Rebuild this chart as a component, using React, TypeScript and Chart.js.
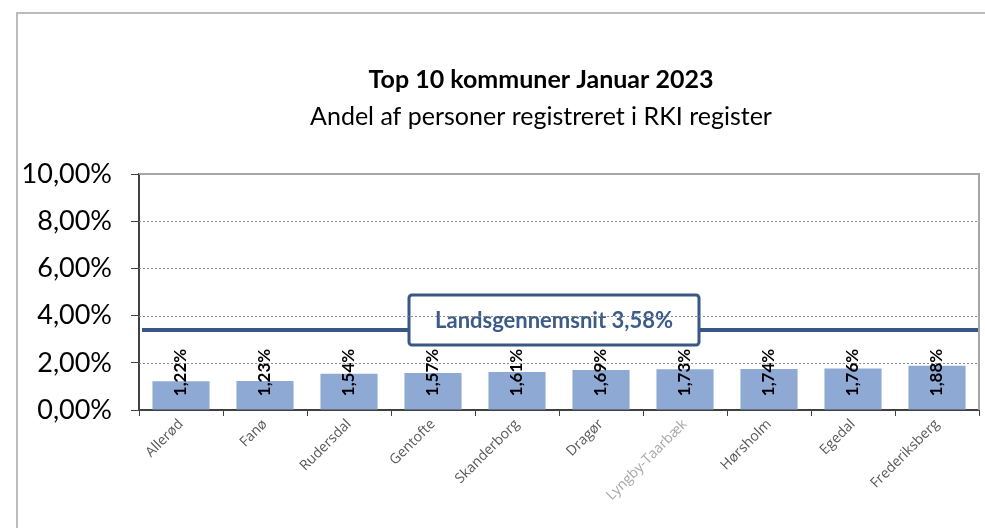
import React, { useEffect, useRef } from "react";
import { Chart, registerables } from "chart.js";

Chart.register(...registerables);

const categories = [
  "Allerød",
  "Fanø",
  "Rudersdal",
  "Gentofte",
  "Skanderborg",
  "Dragør",
  "Lyngby-Taarbæk",
  "Hørsholm",
  "Egedal",
  "Frederiksberg",
];
const shares = [1.22, 1.23, 1.54, 1.57, 1.61, 1.69, 1.73, 1.74, 1.76, 1.88];
const yTicks = [0, 2, 4, 6, 8, 10];
const nationalAverageLabel = "Landsgennemsnit 3,58%";
const nationalAverageLevel = 3.4;
const barLabelLevel = 1.59;
const titleText = "Top 10 kommuner Januar 2023";
const subtitleText = "Andel af personer registreret i RKI register";

const fmt = (v: number) => v.toFixed(2).replace(".", ",") + "%";

const decor = {
  id: "decor",
  beforeDraw(chart: any) {
    const { ctx, width, height } = chart;
    ctx.save();
    ctx.fillStyle = "#ffffff";
    ctx.fillRect(0, 0, width, height);
    ctx.strokeStyle = "#bcbcbc";
    ctx.lineWidth = 2;
    ctx.strokeRect(17, 13, width + 50, height + 50);
    ctx.fillStyle = "#000000";
    ctx.textAlign = "center";
    ctx.textBaseline = "middle";
    ctx.font = "bold 25px Lato";
    ctx.fillText(titleText, 541, 80);
    ctx.font = "25px Lato";
    ctx.fillText(subtitleText, 541, 117);
    ctx.restore();
  },
  beforeDatasetsDraw(chart: any) {
    const { ctx, chartArea, scales } = chart;
    const { left, right, top, bottom } = chartArea;
    const y = scales.y;
    ctx.save();
    // average line
    const ly = Math.round(y.getPixelForValue(nationalAverageLevel));
    ctx.strokeStyle = "#385785";
    ctx.lineWidth = 4;
    ctx.beginPath();
    ctx.moveTo(left + 3, ly);
    ctx.lineTo(right, ly);
    ctx.stroke();
    // label box
    const cx = (left + right) / 2 - 5;
    const cy = ly - 10;
    const bw = 290;
    const bh = 50;
    ctx.beginPath();
    ctx.roundRect(cx - bw / 2, cy - bh / 2, bw, bh, 3);
    ctx.fillStyle = "#ffffff";
    ctx.fill();
    ctx.lineWidth = 3;
    ctx.strokeStyle = "#385785";
    ctx.stroke();
    ctx.fillStyle = "#3b5b89";
    ctx.font = "bold 22px Lato";
    ctx.textAlign = "center";
    ctx.textBaseline = "middle";
    ctx.fillText(nationalAverageLabel, cx, cy + 1);
    // dotted gridlines
    ctx.strokeStyle = "#8a8a8a";
    ctx.lineWidth = 1;
    ctx.setLineDash([2, 2]);
    yTicks.forEach((v) => {
      if (v <= 0 || v >= 10) return;
      const py = Math.round(y.getPixelForValue(v)) + 0.5;
      ctx.beginPath();
      ctx.moveTo(left, py);
      ctx.lineTo(right, py);
      ctx.stroke();
    });
    ctx.setLineDash([]);
    ctx.strokeStyle = "#a6a6a6";
    ctx.lineWidth = 2;
    ctx.beginPath();
    ctx.moveTo(left, top);
    ctx.lineTo(right, top);
    ctx.lineTo(right, bottom);
    ctx.stroke();
    ctx.restore();
  },
  afterDatasetsDraw(chart: any) {
    const { ctx, scales } = chart;
    const y = scales.y;
    const meta = chart.getDatasetMeta(0);
    const cy = y.getPixelForValue(barLabelLevel);
    ctx.save();
    ctx.fillStyle = "#000000";
    ctx.font = "bold 17px Lato";
    ctx.textAlign = "center";
    ctx.textBaseline = "middle";
    meta.data.forEach((bar: any, i: number) => {
      ctx.save();
      ctx.translate(bar.x, cy);
      ctx.rotate(-Math.PI / 2);
      ctx.fillText(fmt(shares[i]), 0, 0);
      ctx.restore();
    });
    ctx.restore();
  },
};

export default function App() {
  const ref = useRef<HTMLCanvasElement>(null);
  useEffect(() => {
    if (!ref.current) return;
    const chart = new Chart(ref.current, {
      type: "bar",
      data: {
        labels: categories,
        datasets: [
          {
            data: shares,
            backgroundColor: "#8EA9D4",
            barPercentage: 0.68,
            categoryPercentage: 1,
          },
        ],
      },
      options: {
        animation: false,
        responsive: false,
        devicePixelRatio: 1,
        layout: { padding: { left: 0, top: 174, right: 6, bottom: 0 } },
        plugins: {
          legend: { display: false },
          tooltip: { enabled: false },
          title: { display: false },
        },
        scales: {
          x: {
            grid: {
              offset: true,
              drawOnChartArea: false,
              tickLength: 6,
              color: "#404040",
            },
            border: { color: "#404040", width: 2 },
            ticks: {
              autoSkip: false,
              maxRotation: 45,
              minRotation: 45,
              padding: 0,
              font: { family: "Open Sans", size: 14 },
              color: (ctx: any) => (ctx.index === 6 ? "#a8a8a8" : "#595959"),
            },
            afterFit: (s: any) => {
              s.height = 118;
            },
          },
          y: {
            min: 0,
            max: 10,
            afterBuildTicks: (s: any) => {
              s.ticks = yTicks.map((v) => ({ value: v }));
            },
            grid: {
              drawOnChartArea: false,
              tickLength: 8,
              color: "#404040",
            },
            border: { color: "#404040", width: 2 },
            ticks: {
              padding: 19,
              font: { family: "Lato", size: 27 },
              color: "#000000",
              callback: (v: any) => fmt(Number(v)),
            },
            afterFit: (s: any) => {
              s.width = 139;
            },
          },
        },
      },
      plugins: [decor],
    });
    return () => chart.destroy();
  }, []);
  return (
    <div style={{ position: "fixed", left: 0, top: 0, width: 985, height: 528 }}>
      <canvas ref={ref} width={985} height={528} style={{ display: "block" }} />
    </div>
  );
}
